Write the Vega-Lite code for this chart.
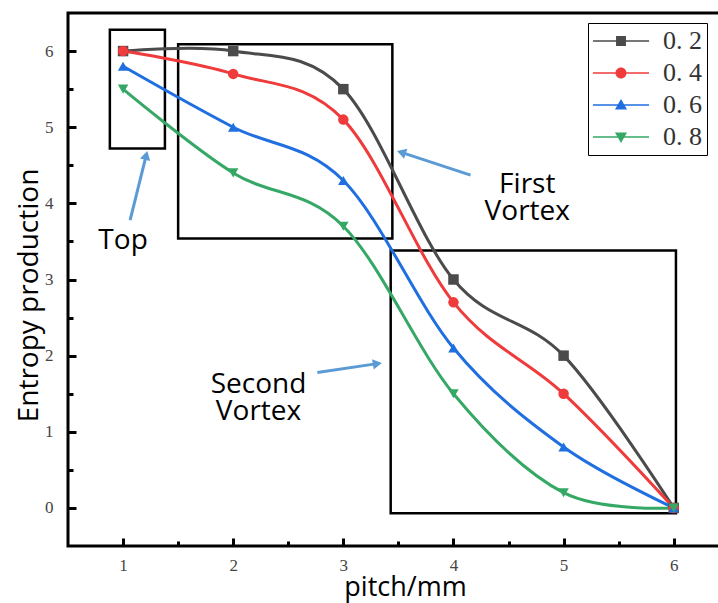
{
  "$schema": "https://vega.github.io/schema/vega-lite/v6.json",
  "width": 652,
  "height": 533,
  "autosize": {"type": "none"},
  "padding": {"left": 68, "top": 13, "right": 0, "bottom": 57},
  "background": "white",
  "config": {
    "view": {"stroke": "black", "strokeWidth": 3},
    "axis": {"grid": false, "domain": false}
  },
  "datasets": {
    "series": [
      {"pitch": 1, "S": 6.0, "series": "0.2"}, {"pitch": 2, "S": 6.0, "series": "0.2"}, {"pitch": 3, "S": 5.5, "series": "0.2"}, {"pitch": 4, "S": 3.0, "series": "0.2"}, {"pitch": 5, "S": 2.0, "series": "0.2"}, {"pitch": 6, "S": 0.0, "series": "0.2"},
      {"pitch": 1, "S": 6.0, "series": "0.4"}, {"pitch": 2, "S": 5.7, "series": "0.4"}, {"pitch": 3, "S": 5.1, "series": "0.4"}, {"pitch": 4, "S": 2.7, "series": "0.4"}, {"pitch": 5, "S": 1.5, "series": "0.4"}, {"pitch": 6, "S": 0.0, "series": "0.4"},
      {"pitch": 1, "S": 5.8, "series": "0.6"}, {"pitch": 2, "S": 5.0, "series": "0.6"}, {"pitch": 3, "S": 4.3, "series": "0.6"}, {"pitch": 4, "S": 2.1, "series": "0.6"}, {"pitch": 5, "S": 0.8, "series": "0.6"}, {"pitch": 6, "S": 0.0, "series": "0.6"},
      {"pitch": 1, "S": 5.5, "series": "0.8"}, {"pitch": 2, "S": 4.4, "series": "0.8"}, {"pitch": 3, "S": 3.7, "series": "0.8"}, {"pitch": 4, "S": 1.5, "series": "0.8"}, {"pitch": 5, "S": 0.2, "series": "0.8"}, {"pitch": 6, "S": 0.0, "series": "0.8"}
    ],
    "boxes": [
      {"name": "Top", "x1": 0.88, "x2": 1.38, "y1": 4.72, "y2": 6.28},
      {"name": "First", "x1": 1.5, "x2": 3.445, "y1": 3.54, "y2": 6.09},
      {"name": "Second", "x1": 3.43, "x2": 6.02, "y1": -0.07, "y2": 3.38}
    ],
    "arrows": [
      {"name": "Top", "x1": 1.064, "y1": 3.78, "x2": 1.21, "y2": 4.63},
      {"name": "First", "x1": 4.155, "y1": 4.37, "x2": 3.527, "y2": 4.67},
      {"name": "Second", "x1": 2.764, "y1": 1.78, "x2": 3.309, "y2": 1.895}
    ],
    "labels": [
      {"text": ["Top"], "x": 1.0, "y": 3.51},
      {"text": ["First", "Vortex"], "x": 4.67, "y": 4.24},
      {"text": ["Second", "Vortex"], "x": 2.23, "y": 1.61}
    ]
  },
  "resolve": {"axis": {"x": "independent", "y": "independent"}, "scale": {"color": "independent", "shape": "independent"}},
  "layer": [
    {
      "data": {"name": "boxes"},
      "mark": {"type": "rect", "fill": null, "fillOpacity": 0, "stroke": "black", "strokeWidth": 2.5},
      "encoding": {
        "x": {"field": "x1", "type": "quantitative", "scale": {"domain": [0.5, 6.42], "nice": false, "zero": false},
              "axis": {"orient": "bottom", "values": [1, 2, 3, 4, 5, 6], "format": "d", "tickSize": -8, "tickWidth": 3, "tickColor": "black", "labelFont": "Liberation Serif", "labelFontSize": 17, "labelColor": "#444", "labelPadding": 19, "title": "pitch/mm", "titleFont": "Open Sans", "titleFontSize": 27, "titleFontWeight": "normal", "titleColor": "black", "titlePadding": 1, "titleX": 337}},
        "x2": {"field": "x2"},
        "y": {"field": "y1", "type": "quantitative", "scale": {"domain": [-0.5, 6.5], "nice": false, "zero": false},
              "axis": {"orient": "left", "values": [0, 1, 2, 3, 4, 5, 6], "format": "d", "tickSize": -8, "tickWidth": 3, "tickColor": "black", "labelFont": "Liberation Serif", "labelFontSize": 17, "labelColor": "#444", "labelPadding": 23, "title": "Entropy production", "titleFont": "Open Sans", "titleFontSize": 28, "titleFontWeight": "normal", "titleColor": "black", "titlePadding": 1, "titleY": 282}},
        "y2": {"field": "y2"}
      }
    },
    {
      "data": {"name": "series"},
      "mark": {"type": "line", "interpolate": "cardinal", "strokeWidth": 3},
      "encoding": {
        "x": {"field": "pitch", "type": "quantitative", "axis": {"orient": "bottom", "values": [1.5, 2.5, 3.5, 4.5, 5.5], "labels": false, "tickSize": -5, "tickWidth": 3, "tickColor": "black", "title": null}},
        "y": {"field": "S", "type": "quantitative", "axis": {"orient": "left", "values": [0.5, 1.5, 2.5, 3.5, 4.5, 5.5], "labels": false, "tickSize": -5, "tickWidth": 3, "tickColor": "black", "title": null}},
        "color": {"field": "series", "type": "nominal", "scale": {"domain": ["0.2", "0.4", "0.6", "0.8"], "range": ["#4b4b4b", "#ef3b3b", "#1f6fe0", "#36a866"]}, "legend": null},
        "detail": {"field": "series"}
      }
    },
    {
      "data": {"name": "series"},
      "mark": {"type": "point", "filled": true, "opacity": 1, "size": 110},
      "encoding": {
        "x": {"field": "pitch", "type": "quantitative", "axis": null},
        "y": {"field": "S", "type": "quantitative", "axis": null},
        "color": {"field": "series", "type": "nominal", "scale": {"domain": ["0.2", "0.4", "0.6", "0.8"], "range": ["#4b4b4b", "#ef3b3b", "#1f6fe0", "#36a866"]}, "legend": null},
        "shape": {"field": "series", "type": "nominal", "scale": {"domain": ["0.2", "0.4", "0.6", "0.8"], "range": ["square", "circle", "triangle-up", "triangle-down"]}, "legend": null}
      }
    },
    {
      "data": {"name": "series"},
      "transform": [{"filter": "false"}],
      "mark": {"type": "point", "filled": true, "opacity": 1, "size": 121},
      "encoding": {
        "x": {"field": "pitch", "type": "quantitative", "axis": null},
        "y": {"field": "S", "type": "quantitative", "axis": null},
        "color": {"field": "series", "type": "nominal", "scale": {"domain": ["0.2", "0.4", "0.6", "0.8"], "range": ["#4b4b4b", "#ef3b3b", "#1f6fe0", "#36a866"]},
          "legend": {"orient": "none", "legendX": 520, "legendY": 10, "title": null, "strokeColor": "black", "padding": 5, "fillColor": "white",
            "symbolSize": 121, "symbolOffset": 15, "labelOffset": 29, "rowPadding": 6,
            "labelFont": "Liberation Serif", "labelFontSize": 26, "labelColor": "#333",
            "labelExpr": "replace(datum.label, '.', '. ')",
            "encode": {"legend": {"strokeWidth": {"value": 2}}}}},
        "shape": {"field": "series", "type": "nominal", "scale": {"domain": ["0.2", "0.4", "0.6", "0.8"], "range": [
          "M-5.1,-0.14H5.1V0.14H-5.1Z M-0.9,-0.9H0.9V0.9H-0.9Z",
          "M-5.1,-0.14H5.1V0.14H-5.1Z M-1,0A1,1 0 1,1 1,0A1,1 0 1,1 -1,0Z",
          "M-5.1,-0.14H5.1V0.14H-5.1Z M0,-1.1L1.1,0.8L-1.1,0.8Z",
          "M-5.1,-0.14H5.1V0.14H-5.1Z M0,1.1L-1.1,-0.8L1.1,-0.8Z"]},
          "legend": {"orient": "none", "legendX": 520, "legendY": 10, "title": null, "strokeColor": "black", "padding": 5, "fillColor": "white",
            "symbolSize": 121, "symbolOffset": 15, "labelOffset": 29, "rowPadding": 6,
            "labelFont": "Liberation Serif", "labelFontSize": 26, "labelColor": "#333",
            "labelExpr": "replace(datum.label, '.', '. ')",
            "encode": {"legend": {"strokeWidth": {"value": 2}}}}}
      }
    },
    {
      "data": {"name": "arrows"},
      "mark": {"type": "rule", "color": "#5b9bd5", "strokeWidth": 3},
      "encoding": {
        "x": {"field": "x1", "type": "quantitative", "axis": null},
        "y": {"field": "y1", "type": "quantitative", "axis": null},
        "x2": {"field": "x2"},
        "y2": {"field": "y2"}
      }
    },
    {
      "data": {"name": "arrows"},
      "transform": [{"filter": "datum.name === 'Top'"}],
      "mark": {"type": "point", "shape": "triangle-up", "filled": true, "color": "#5b9bd5", "opacity": 1, "size": 110, "angle": 14},
      "encoding": {
        "x": {"field": "x2", "type": "quantitative", "axis": null},
        "y": {"field": "y2", "type": "quantitative", "axis": null}
      }
    },
    {
      "data": {"name": "arrows"},
      "transform": [{"filter": "datum.name === 'First'"}],
      "mark": {"type": "point", "shape": "triangle-up", "filled": true, "color": "#5b9bd5", "opacity": 1, "size": 110, "angle": 288},
      "encoding": {
        "x": {"field": "x2", "type": "quantitative", "axis": null},
        "y": {"field": "y2", "type": "quantitative", "axis": null}
      }
    },
    {
      "data": {"name": "arrows"},
      "transform": [{"filter": "datum.name === 'Second'"}],
      "mark": {"type": "point", "shape": "triangle-up", "filled": true, "color": "#5b9bd5", "opacity": 1, "size": 110, "angle": 81},
      "encoding": {
        "x": {"field": "x2", "type": "quantitative", "axis": null},
        "y": {"field": "y2", "type": "quantitative", "axis": null}
      }
    },
    {
      "data": {"name": "labels"},
      "mark": {"type": "text", "font": "Open Sans", "fontSize": 28, "lineHeight": 27, "color": "black", "align": "center", "baseline": "middle"},
      "encoding": {
        "x": {"field": "x", "type": "quantitative", "axis": null},
        "y": {"field": "y", "type": "quantitative", "axis": null},
        "text": {"field": "text"}
      }
    }
  ]
}
